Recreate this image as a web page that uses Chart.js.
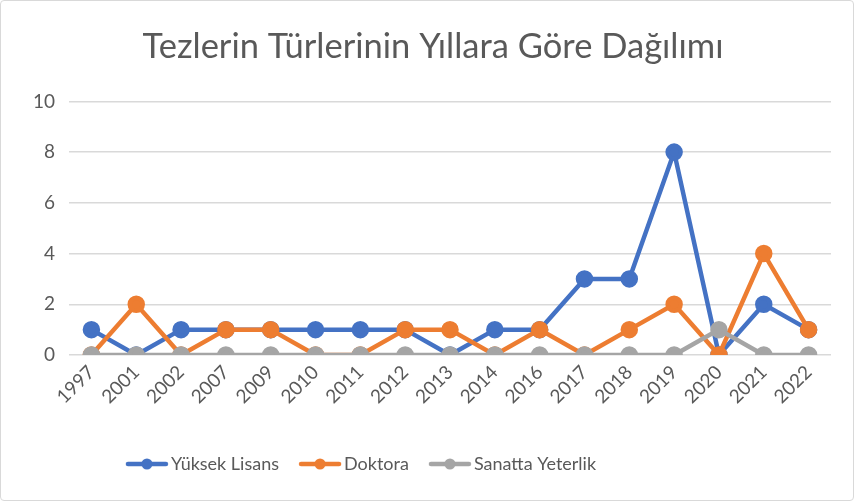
<!DOCTYPE html>
<html><head><meta charset="utf-8">
<script src="https://cdn.jsdelivr.net/npm/chart.js@4"></script>
<style>
html,body{margin:0;padding:0;background:#fff;}
#wrap{position:absolute;left:0;top:0;width:852px;height:499px;border:1px solid #d9d9d9;border-radius:4px;box-sizing:content-box;}
canvas{display:block;}
</style></head>
<body><div id="wrap"><canvas id="c" width="852" height="499"></canvas></div>
<script>
const years = ['1997','2001','2002','2007','2009','2010','2011','2012','2013','2014','2016','2017','2018','2019','2020','2021','2022'];
const yuksekLisans = [1,0,1,1,1,1,1,1,0,1,1,3,3,8,0,2,1];
const doktora = [0,2,0,1,1,0,0,1,1,0,1,0,1,2,0,4,1];
const sanattaYeterlik = [0,0,0,0,0,0,0,0,0,0,0,0,0,0,1,0,0];
const yTicks = [0,2,4,6,8,10];
const title = 'Tezlerin Türlerinin Yıllara Göre Dağılımı';
const seriesNames = ['Yüksek Lisans','Doktora','Sanatta Yeterlik'];
const colors = ['#4472C4','#ED7D31','#A5A5A5'];

const FONT = 'Lato, "Open Sans", sans-serif';

function legendIcon(color){
  const cv = document.createElement('canvas');
  cv.width = 44; cv.height = 12;
  const g = cv.getContext('2d');
  g.strokeStyle = color; g.lineWidth = 4.5; g.lineCap = 'round';
  g.beginPath(); g.moveTo(3,6); g.lineTo(41,6); g.stroke();
  g.fillStyle = color; g.beginPath(); g.arc(22,6,5.5,0,Math.PI*2); g.fill();
  return cv;
}
const icons = colors.map(legendIcon);

const datasets = [yuksekLisans, doktora, sanattaYeterlik].map((d,i)=>({
  label: seriesNames[i], data: d,
  borderColor: colors[i], backgroundColor: colors[i],
  pointBackgroundColor: colors[i], pointBorderColor: colors[i],
  borderWidth: 4.5, pointRadius: 6.5, pointHoverRadius: 6.5,
  tension: 0, order: 3 - i
}));

const blockShift = {
  id: 'blockShift',
  afterLayout(chart) {
    const lg = chart.legend;
    if (lg) { lg.left -= 56; lg.right -= 56; }
    const tb = chart.titleBlock;
    if (tb) { tb.left += 13; tb.right += 13; }
  }
};

new Chart(document.getElementById('c'), {
  type: 'line',
  data: { labels: years, datasets },
  plugins: [blockShift],
  options: {
    responsive: false, animation: false,
    layout: { padding: { left: 8, right: 22, top: 0, bottom: 17 } },
    plugins: {
      title: { display: true, text: title, color: '#595959',
        font: { family: FONT, size: 34.5, weight: 'normal' }, padding: { top: 25, bottom: 34 } },
      legend: { position: 'bottom',
        labels: { color: '#595959', font: { family: FONT, size: 18 },
          usePointStyle: true, pointStyleWidth: 30, boxHeight: 12, padding: 26,
          generateLabels: (chart) => chart.data.datasets.map((ds,i)=>({
            text: ds.label, fillStyle: colors[i], strokeStyle: colors[i], lineWidth: 0,
            pointStyle: icons[i], datasetIndex: i, hidden: false, fontColor: '#595959'
          }))
        } },
      tooltip: { enabled: false }
    },
    scales: {
      x: { offset: true,
        afterFit: (s) => { s.height = 74; },
        grid: { display: false, drawTicks: false },
        border: { display: false },
        ticks: { color: '#595959', font: { family: FONT, size: 19 }, maxRotation: 45, minRotation: 45, padding: 6, autoSkip: false } },
      y: { min: 0, max: 10,
        afterBuildTicks: (s) => { s.ticks = yTicks.map(v=>({value:v})); },
        afterFit: (s) => { s.width = 60; },
        grid: { color: '#d9d9d9', lineWidth: 1.5, drawTicks: false },
        border: { display: false },
        ticks: { color: '#595959', font: { family: FONT, size: 19 }, padding: 14 } }
    }
  }
});
</script></body></html>
